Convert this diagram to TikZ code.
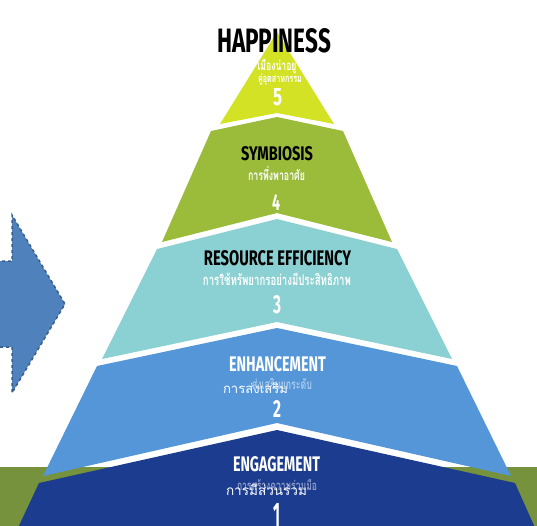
\documentclass[tikz,border=0pt]{standalone}
\usepackage{fontspec}
\setmainfont{Fira Sans}
\newfontfamily\headfont{Fira Sans}
\newfontfamily\thaic[Script=Thai,FakeStretch=0.65]{Loma}
\newfontfamily\thaib[Script=Thai]{Loma}
\definecolor{lyellow}{HTML}{D4E225}
\definecolor{lgreen}{HTML}{9BBB3A}
\definecolor{lteal}{HTML}{8BD0D2}
\definecolor{lblue}{HTML}{5596D8}
\definecolor{ldark}{HTML}{1B3C8F}
\definecolor{band}{HTML}{76923C}
\definecolor{arrowfill}{HTML}{4F81BD}
\definecolor{arrowline}{HTML}{385D8A}
\newcommand\hdtx[3]{\resizebox{#1pt}{#2pt}{\headfont\bfseries #3}}
\newcommand\thtx[2]{\resizebox{#1pt}{!}{\thaic\bfseries #2}}
\newcommand\thbtx[2]{\resizebox{#1pt}{!}{\thaib #2}}
\tikzset{
  head/.style={inner sep=0pt, anchor=south},
  thtext/.style={inner sep=0pt, anchor=base, text=white},
  faded/.style={inner sep=0pt, anchor=base, text=white, opacity=0.5}
}
\begin{document}
\begin{tikzpicture}[x=1pt,y=-1pt]
\useasboundingbox (0,0) rectangle (537,525);
\begin{scope}
\clip (0,0) rectangle (537,525);
\fill[band] (0,467) rectangle (537,530);
% layers
\fill[lyellow] (277,32) -- (334,124) -- (277,113) -- (220,124) -- cycle;
\fill[lgreen] (211,131) -- (277,117) -- (343,131) -- (392,242) -- (277,213) -- (162,242) -- cycle;
\fill[lteal] (157,249) -- (277,219) -- (397,249) -- (452,359) -- (277,322) -- (102,359) -- cycle;
\fill[lblue] (97,366) -- (277,328) -- (457,366) -- (511,476) -- (277,423) -- (43,476) -- cycle;
\fill[ldark] (39,483) -- (277,430) -- (515,483) -- (536,530) -- (17,530) -- cycle;
% arrow
\draw[fill=arrowfill, draw=arrowline, line width=1.5pt, dashed] (-10,261) -- (12,261) -- (12,215) -- (65,304) -- (12,393) -- (12,347) -- (-10,347) -- cycle;

% level 5
\node[head] (h5) at (274,53) {\hdtx{114}{24}{HAPPINESS}};
\node[thtext] (t5a) at (277,70) {\thtx{39}{เมืองน่าอยู่}};
\node[thtext] (t5b) at (280,82) {\thtx{44}{คู่อุตสาหกรรม}};
\node[head, text=white] (n5) at (277.5,106) {\hdtx{9}{17}{5}};
% level 4
\node[head] (h4) at (277,161) {\hdtx{72}{14}{SYMBIOSIS}};
\node[thtext] (t4) at (276.5,180) {\thtx{57}{การพึ่งพาอาศัย}};
\node[head, text=white] (n4) at (276,211) {\hdtx{8}{16}{4}};
% level 3
\node[head] (h3) at (277.5,266) {\hdtx{147}{15}{RESOURCE EFFICIENCY}};
\node[thtext] (t3) at (277,285) {\thtx{148}{การใช้ทรัพยากรอย่างมีประสิทธิภาพ}};
\node[head, text=white] (n3) at (277,314) {\hdtx{8}{18}{3}};
% level 2
\node[head, text=white] (h2) at (277.5,372) {\hdtx{97}{15}{ENHANCEMENT}};
\node[faded] (f2) at (282,389) {\thtx{60}{ส่งเสริมยกระดับ}};
\node[thtext] (t2) at (255.5,393) {\thbtx{65}{การส่งเสริม}};
\node[head, text=white] (n2) at (277,418) {\hdtx{8}{17}{2}};
% level 1
\node[head, text=white] (h1) at (276.5,472) {\hdtx{87}{15}{ENGAGEMENT}};
\node[faded] (f1) at (277,490) {\thtx{80}{การสร้างความร่วมมือ}};
\node[thtext] (t1) at (266.5,495) {\thbtx{81}{การมีส่วนร่วม}};
\node[head, text=white] (n1) at (276.5,527) {\hdtx{7}{23}{1}};
\end{scope}
\end{tikzpicture}
\end{document}
